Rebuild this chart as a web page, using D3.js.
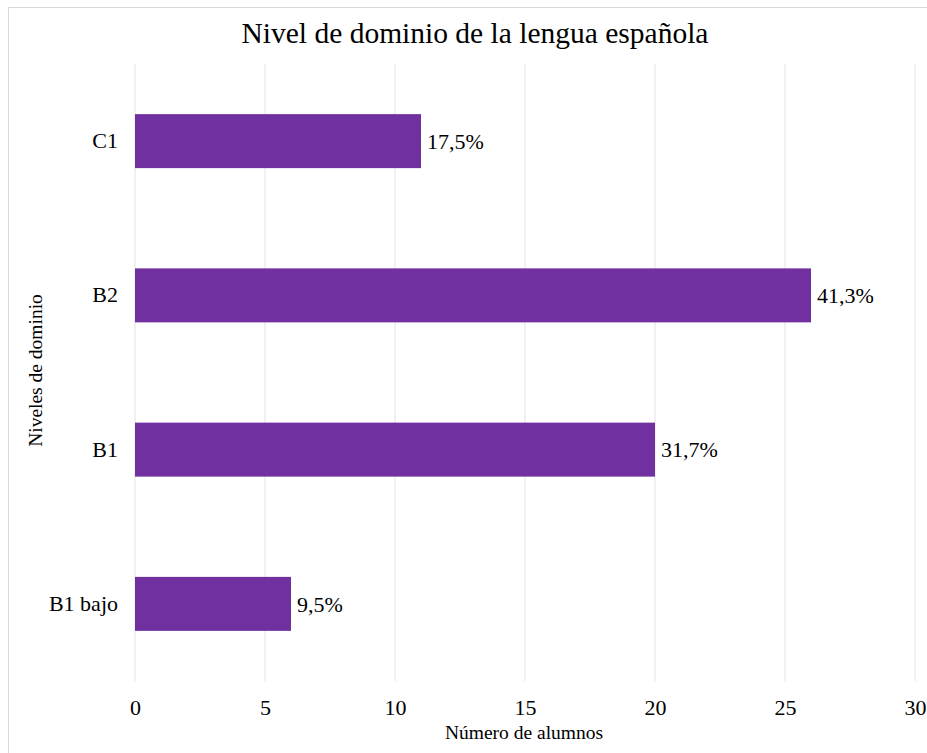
<!DOCTYPE html>
<html>
<head>
<meta charset="utf-8">
<script src="https://cdn.jsdelivr.net/npm/d3@7"></script>
<style>
  body { margin: 0; background: #fff; }
  svg text { font-family: "Liberation Serif", "Times New Roman", serif; fill: #000; }
</style>
</head>
<body>
<div id="chart"></div>
<script>
// data
const levels = ["C1", "B2", "B1", "B1 bajo"];
const students = [11, 26, 20, 6];
const shares = ["17,5%", "41,3%", "31,7%", "9,5%"];
const xTicks = [0, 5, 10, 15, 20, 25, 30];

const width = 927, height = 753;
const margin = {top: 64, right: 12, bottom: 72, left: 135};
const serif = "Liberation Serif";

const svg = d3.select("#chart").append("svg")
    .attr("width", width)
    .attr("height", height)
    .attr("font-family", serif);

// chart frame (runs off the right and bottom edge)
svg.append("rect")
    .attr("x", 8.5).attr("y", 7.5)
    .attr("width", width + 20).attr("height", height + 20)
    .attr("fill", "none")
    .attr("stroke", "#d9d9d9");

const x = d3.scaleLinear()
    .domain([0, 30])
    .range([margin.left, width - margin.right]);

const y = d3.scaleBand()
    .domain(levels)
    .range([margin.top, height - margin.bottom])
    .paddingInner(0.65)
    .paddingOuter(0.325);

// gridlines
svg.append("g")
    .selectAll("line")
    .data(xTicks)
    .join("line")
    .attr("x1", d => x(d)).attr("x2", d => x(d))
    .attr("y1", margin.top).attr("y2", height - margin.bottom)
    .attr("stroke", "#e3e3e3")
    .attr("stroke-width", 1);

// bars
const rows = levels.map((l, i) => ({level: l, value: students[i], share: shares[i]}));

svg.append("g")
    .selectAll("rect")
    .data(rows)
    .join("rect")
    .attr("x", x(0))
    .attr("y", d => y(d.level))
    .attr("width", d => x(d.value) - x(0))
    .attr("height", y.bandwidth())
    .attr("fill", "#7030a0");

// value labels
svg.append("g")
    .selectAll("text")
    .data(rows)
    .join("text")
    .attr("x", d => x(d.value) + 6)
    .attr("y", d => y(d.level) + y.bandwidth() / 2)
    .attr("dy", "0.35em")
    .attr("font-family", serif)
    .style("font-size", "22px")
    .text(d => d.share);

// x axis
const xAxis = svg.append("g")
    .attr("transform", `translate(0,${height - margin.bottom})`)
    .call(d3.axisBottom(x).tickValues(xTicks).tickSize(0).tickPadding(18));
xAxis.attr("font-family", serif);
xAxis.select(".domain").remove();
xAxis.selectAll("text")
    .style("font-size", "22px");

// y axis
const yAxis = svg.append("g")
    .attr("transform", `translate(${margin.left},0)`)
    .call(d3.axisLeft(y).tickSize(0).tickPadding(17));
yAxis.attr("font-family", serif);
yAxis.select(".domain").remove();
yAxis.selectAll("text")
    .style("font-size", "22px");

// title
svg.append("text")
    .attr("x", 475)
    .attr("y", 43)
    .attr("text-anchor", "middle")
    .attr("font-family", serif)
    .style("font-size", "29.5px")
    .text("Nivel de dominio de la lengua española");

// axis titles
svg.append("text")
    .attr("x", 524)
    .attr("y", 739)
    .attr("text-anchor", "middle")
    .attr("font-family", serif)
    .style("font-size", "19.5px")
    .text("Número de alumnos");

svg.append("text")
    .attr("transform", `translate(42,${(margin.top + height - margin.bottom) / 2 - 2}) rotate(-90)`)
    .attr("text-anchor", "middle")
    .attr("font-family", serif)
    .style("font-size", "19.5px")
    .text("Niveles de dominio");
</script>
</body>
</html>
